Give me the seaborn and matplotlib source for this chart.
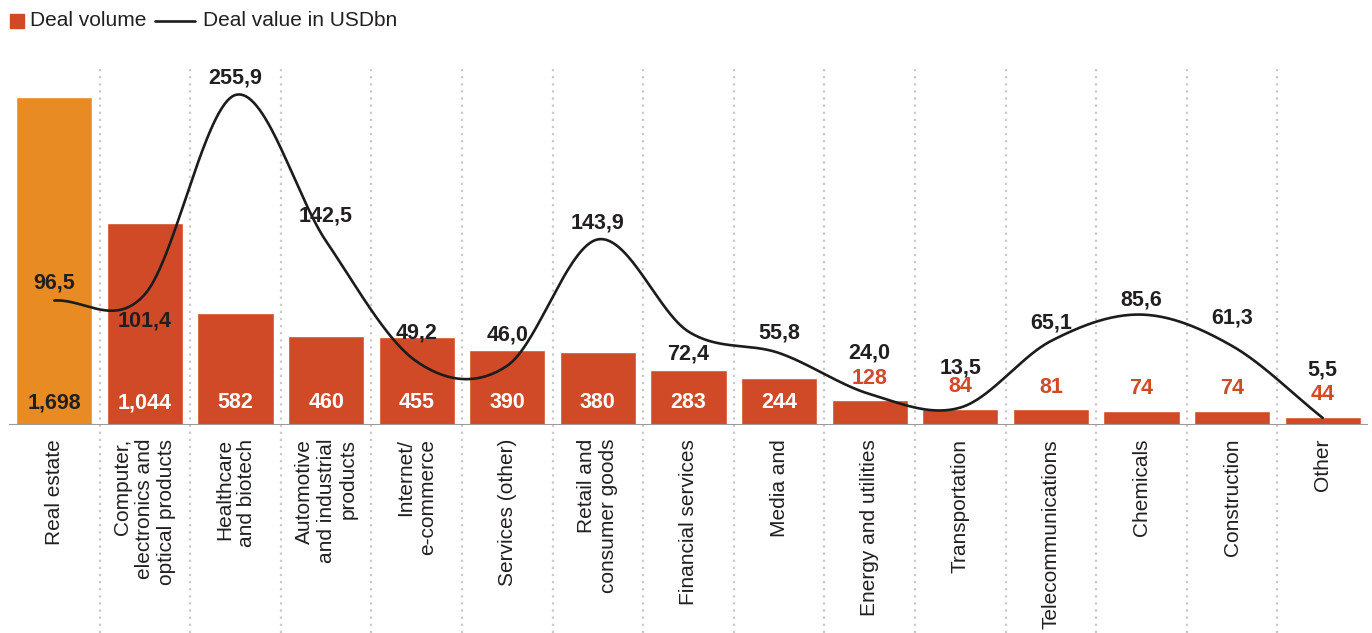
import numpy as np
import matplotlib
matplotlib.use("Agg")
import matplotlib.pyplot as plt
from matplotlib.patches import Rectangle
from matplotlib.lines import Line2D
import seaborn as sns

# ---------------- data ----------------
categories = [
    "Real estate",
    "Computer,\nelectronics and\noptical products",
    "Healthcare\nand biotech",
    "Automotive\nand industrial\nproducts",
    "Internet/\ne-commerce",
    "Services (other)",
    "Retail and\nconsumer goods",
    "Financial services",
    "Media and",
    "Energy and utilities",
    "Transportation",
    "Telecommunications",
    "Chemicals",
    "Construction",
    "Other",
]
deal_volume = [1698, 1044, 582, 460, 455, 390, 380, 283, 244, 128, 84, 81, 74, 74, 44]
deal_value = [96.5, 101.4, 255.9, 142.5, 49.2, 46.0, 143.9, 72.4, 55.8, 24.0, 13.5, 65.1, 85.6, 61.3, 5.5]
volume_labels = ["1,698", "1,044", "582", "460", "455", "390", "380", "283", "244",
                 "128", "84", "81", "74", "74", "44"]
value_labels = ["96,5", "101,4", "255,9", "142,5", "49,2", "46,0", "143,9", "72,4", "55,8",
                "24,0", "13,5", "65,1", "85,6", "61,3", "5,5"]

# ---------------- style ----------------
ORANGE = "#E88B22"
RED = "#D14A27"
DARK = "#231F20"
bar_colors = [ORANGE] + [RED] * 14
# vertical pixel offsets of value labels relative to the line point
value_label_offsets = [18, -27, 17, 25, 29, 31, 16, -22, 20, 41, 40, 18, 15, 28, 48]

sns.set_style("white")
plt.rcParams["font.family"] = ["Liberation Sans", "DejaVu Sans"]

W, H = 1372, 633
fig = plt.figure(figsize=(W / 100, H / 100), dpi=100)
ax = fig.add_axes([9 / W, 208 / H, 1359 / W, 365 / H])

n = len(categories)
sns.barplot(x=categories, y=deal_volume, hue=categories, palette=bar_colors,
            legend=False, width=0.84, saturation=1, ax=ax)
ax.set_xlim(-0.5, n - 0.5)
ax.set_ylim(0, 1890)
for s in ax.spines.values():
    s.set_visible(False)
ax.set_yticks([])
ax.set_ylabel("")
ax.set_xlabel("")
ax.set_xticks(range(n))
ax.set_xticklabels(categories, rotation=90, ha="center", va="top",
                   multialignment="right", fontsize=15, color=DARK)
ax.tick_params(axis="x", length=0, pad=10)

# baseline
ax.axhline(0, color="#9a9a9a", lw=1.5, zorder=3)

# dotted separators
for i in range(n - 1):
    ax.plot([i + 0.5, i + 0.5], [-0.57, 0.978], transform=ax.get_xaxis_transform(),
            color="#c9c9c9", lw=1.6, linestyle=(0, (1, 2.2)), clip_on=False, zorder=0)

NUM_FS = 15.5

# bar labels
for i, (v, lab) in enumerate(zip(deal_volume, volume_labels)):
    if v >= 200:
        col = DARK if i == 0 else "white"
        ax.annotate(lab, (i, 0), xytext=(0, 22), textcoords="offset pixels",
                    ha="center", va="center", fontsize=NUM_FS, fontweight="bold", color=col, zorder=5)
    else:
        ax.annotate(lab, (i, v), xytext=(0, 22), textcoords="offset pixels",
                    ha="center", va="center", fontsize=NUM_FS, fontweight="bold", color=RED, zorder=5)

# smooth line (Catmull-Rom style cubic Hermite through the values)
ax2 = ax.twinx()
ax2.set_ylim(0, 283)
ax2.set_xlim(-0.5, n - 0.5)
p = np.array(deal_value, dtype=float)
m = np.zeros_like(p)
m[1:-1] = (p[2:] - p[:-2]) / 2
m[0] = p[1] - p[0]
m[-1] = p[-1] - p[-2]
xs, ys = [], []
for i in range(n - 1):
    t = np.linspace(0, 1, 60, endpoint=(i == n - 2))
    h00 = 2 * t**3 - 3 * t**2 + 1
    h10 = t**3 - 2 * t**2 + t
    h01 = -2 * t**3 + 3 * t**2
    h11 = t**3 - t**2
    xs.append(i + t)
    ys.append(h00 * p[i] + h10 * m[i] + h01 * p[i + 1] + h11 * m[i + 1])
xs = np.concatenate(xs)
ys = np.concatenate(ys)
sns.lineplot(x=xs, y=ys, ax=ax2, color="#1c1c1c", lw=1.9, sort=False, zorder=4)
for s in ax2.spines.values():
    s.set_visible(False)
ax2.set_yticks([])
ax2.set_ylabel("")

for i, (v, lab) in enumerate(zip(deal_value, value_labels)):
    ax2.annotate(lab, (i, v), xytext=(0, value_label_offsets[i]), textcoords="offset pixels",
                 ha="center", va="center", fontsize=NUM_FS, fontweight="bold", color=DARK, zorder=6)

# legend (manual, top-left)
fig.patches.append(Rectangle((10 / W, (H - 28) / H), 14 / W, 14 / H,
                             transform=fig.transFigure, color=RED))
fig.text(30 / W, (H - 21) / H, "Deal volume", fontsize=15, color=DARK, va="center", ha="left")
fig.lines.append(Line2D([155 / W, 195 / W], [(H - 21) / H] * 2, transform=fig.transFigure,
                        color="#1c1c1c", lw=1.9))
fig.text(203 / W, (H - 21) / H, "Deal value in USDbn", fontsize=15, color=DARK, va="center", ha="left")

fig.savefig("out.png", dpi=100)
